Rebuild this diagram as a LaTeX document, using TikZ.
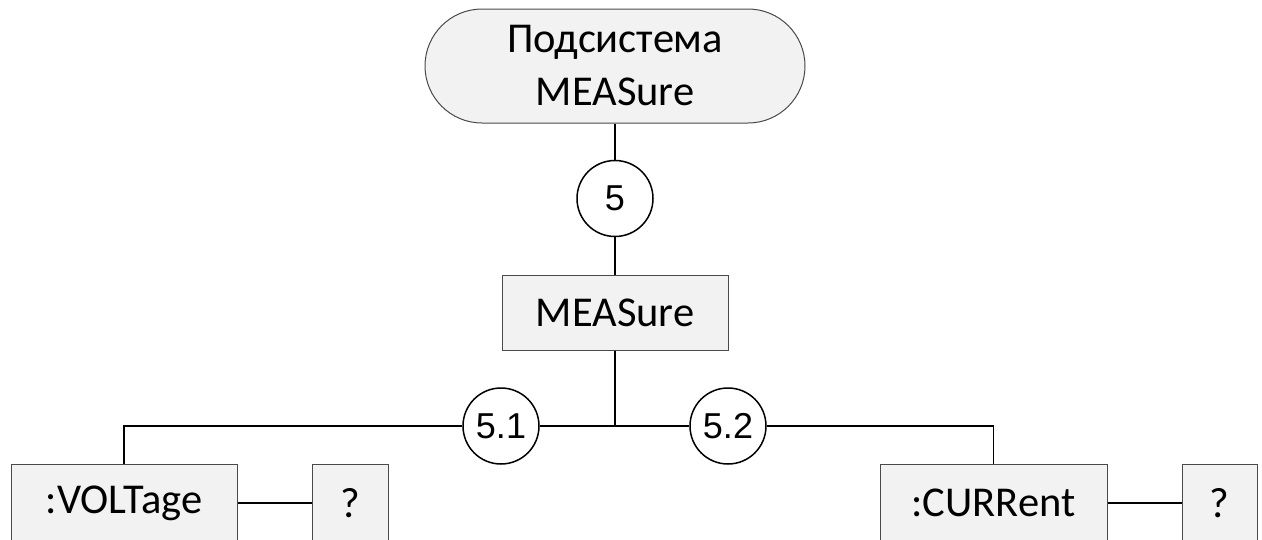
\documentclass[tikz,border=0pt]{standalone}
\usepackage{fontspec}
\setmainfont{Carlito}
\newfontfamily\numfont{Liberation Sans}
\definecolor{boxfill}{HTML}{F2F2F2}
\definecolor{boxline}{HTML}{4A4A4A}
\begin{document}
\begin{tikzpicture}[x=1pt,y=-1pt,
  every node/.style={font=\fontsize{42.5}{53}\selectfont, inner sep=0pt, align=center},
  cmdbox/.style={draw=boxline, line width=1pt, fill=boxfill},
  numcircle/.style={circle, draw=black, line width=1.5pt, fill=white, minimum size=76pt,
    font=\numfont\fontsize{36}{40}\selectfont},
  wire/.style={draw=black, line width=1.5pt}]
  \useasboundingbox (0,0) rectangle (1262,539);
  \begin{scope}
    \clip (0,0) rectangle (1262,539);
    % top subsystem pill
    \node[cmdbox, rounded corners=57pt, minimum width=380pt, minimum height=114pt]
      (pill) at (615,66) {Подсистема\\MEASure};
    \node[numcircle] (c5) at (615,198.5) {5};
    \node[cmdbox, minimum width=226pt, minimum height=75pt] (meas) at (615,312.5) {MEASure};
    \coordinate (j) at (615,426);
    \node[numcircle] (c51) at (501,426) {5.1};
    \node[numcircle] (c52) at (728,426) {5.2};
    % leaf commands
    \node[cmdbox, minimum width=226pt, minimum height=78pt] (volt) at (124,503) {:VOLTage};
    \node[cmdbox, minimum width=76pt, minimum height=78pt] (q1) at (350,503) {?};
    \node[cmdbox, minimum width=227pt, minimum height=78pt] (curr) at (993.5,503) {:CURRent};
    \node[cmdbox, minimum width=75pt, minimum height=78pt] (q2) at (1219.5,503) {?};
    % connectors
    \draw[wire] (pill.south) -- (c5.north);
    \draw[wire] (c5.south) -- (meas.north);
    \draw[wire] (meas.south) -- (j);
    \draw[wire] (c51.east) -- (c52.west);
    \draw[wire] (c51.west) -| (volt.north);
    \draw[wire] (c52.east) -| (curr.north);
    \draw[wire] (volt.east) -- (q1.west);
    \draw[wire] (curr.east) -- (q2.west);
  \end{scope}
\end{tikzpicture}
\end{document}
